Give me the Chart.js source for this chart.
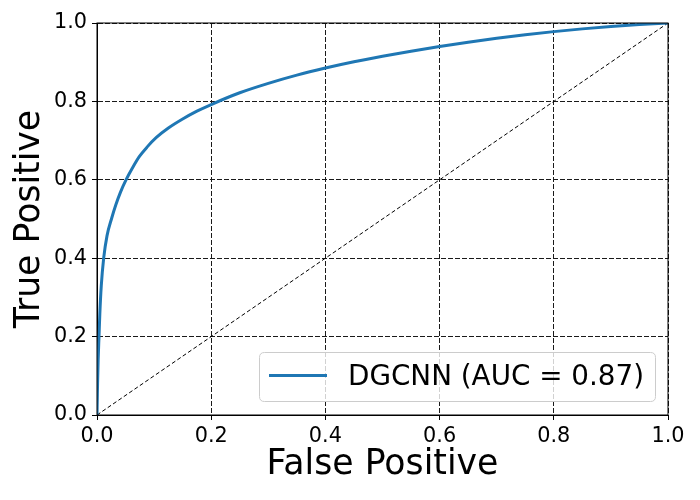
<!DOCTYPE html>
<html>
<head>
<meta charset="utf-8">
<script src="https://cdn.jsdelivr.net/npm/chart.js@4.4.0/dist/chart.umd.min.js"></script>
<style>
html,body{margin:0;padding:0;background:#fff;}
#wrap{width:700px;height:500px;}
</style>
</head>
<body>
<div id="wrap"><canvas id="c" width="700" height="500"></canvas></div>
<script>
const fpr = [0, 0.0005, 0.001, 0.002, 0.0035, 0.005, 0.0075, 0.0117, 0.0175, 0.0257, 0.0327, 0.041, 0.0506, 0.062, 0.074, 0.088, 0.104, 0.125, 0.15, 0.175, 0.2, 0.25, 0.3, 0.35, 0.4, 0.45, 0.5, 0.55, 0.6, 0.65, 0.7, 0.75, 0.8, 0.85, 0.9, 0.95, 1.0];
const tpr = [0, 0.04, 0.08, 0.14, 0.2, 0.26, 0.33, 0.4, 0.457, 0.502, 0.535, 0.568, 0.599, 0.63, 0.659, 0.684, 0.708, 0.732, 0.755, 0.775, 0.792, 0.822, 0.846, 0.867, 0.885, 0.901, 0.915, 0.928, 0.94, 0.951, 0.961, 0.97, 0.978, 0.985, 0.991, 0.996, 1.0];
const chanceX = [0, 1];
const chanceY = [0, 1];
const tickValues = [0, 0.2, 0.4, 0.6, 0.8, 1.0];
const seriesLabel = 'DGCNN (AUC = 0.87)';
const xTitle = 'False Positive';
const yTitle = 'True Positive';

const FONT = "'DejaVu Sans', sans-serif";

const framePlugin = {
  id: 'frame',
  afterDatasetsDraw(chart) {
    const {ctx, chartArea: a} = chart;
    ctx.save();
    ctx.strokeStyle = '#000';
    ctx.lineWidth = 1;
    ctx.setLineDash([]);
    ctx.strokeRect(a.left, a.top, a.right - a.left, a.bottom - a.top);
    ctx.restore();
  },
  afterDraw(chart) {
    const {ctx} = chart;
    const ds = chart.data.datasets[0];
    ctx.save();
    const bx = 259.5, by = 352.5, bw = 396, bh = 49, r = 5;
    ctx.beginPath();
    ctx.moveTo(bx + r, by);
    ctx.lineTo(bx + bw - r, by);
    ctx.quadraticCurveTo(bx + bw, by, bx + bw, by + r);
    ctx.lineTo(bx + bw, by + bh - r);
    ctx.quadraticCurveTo(bx + bw, by + bh, bx + bw - r, by + bh);
    ctx.lineTo(bx + r, by + bh);
    ctx.quadraticCurveTo(bx, by + bh, bx, by + bh - r);
    ctx.lineTo(bx, by + r);
    ctx.quadraticCurveTo(bx, by, bx + r, by);
    ctx.closePath();
    ctx.fillStyle = 'rgba(255,255,255,0.8)';
    ctx.fill();
    ctx.strokeStyle = '#cccccc';
    ctx.lineWidth = 1;
    ctx.stroke();
    ctx.beginPath();
    ctx.moveTo(269, 375.5);
    ctx.lineTo(327, 375.5);
    ctx.strokeStyle = ds.borderColor;
    ctx.lineWidth = 3;
    ctx.stroke();
    ctx.fillStyle = '#000';
    ctx.font = "27.8px " + FONT;
    ctx.textBaseline = 'alphabetic';
    ctx.textAlign = 'left';
    ctx.fillText(ds.label, 348, 385);
    ctx.restore();
  }
};

const gridCfg = {
  color: '#1a1a1a',
  lineWidth: 1,
  drawTicks: true,
  tickLength: 5,
  tickColor: '#000',
  tickWidth: 1,
  tickBorderDash: [],
};

new Chart(document.getElementById('c'), {
  type: 'scatter',
  data: {
    datasets: [
      {
        label: seriesLabel,
        data: fpr.map((x, i) => ({x: x, y: tpr[i]})),
        showLine: true,
        borderColor: '#1f77b4',
        backgroundColor: '#1f77b4',
        borderWidth: 3,
        pointRadius: 0,
        cubicInterpolationMode: 'monotone',
        order: 1
      },
      {
        label: 'chance',
        data: chanceX.map((x, i) => ({x: x, y: chanceY[i]})),
        showLine: true,
        borderColor: '#000',
        borderWidth: 1,
        borderDash: [4, 2.5],
        pointRadius: 0,
        order: 2
      }
    ]
  },
  options: {
    responsive: false,
    animation: false,
    devicePixelRatio: 1,
    layout: {padding: {top: 23, right: 32, left: 0, bottom: 0}},
    plugins: {legend: {display: false}, tooltip: {enabled: false}},
    scales: {
      x: {
        type: 'linear', min: 0, max: 1,
        afterBuildTicks(s) { s.ticks = tickValues.map(v => ({value: v})); },
        afterFit(s) { s.height = 85; },
        grid: gridCfg,
        border: {display: true, color: '#000', width: 1, dash: [5, 2]},
        ticks: {color: '#000', padding: 4, font: {family: FONT, size: 20.8}, maxRotation: 0,
          callback: v => v.toFixed(1)},
        title: {display: true, text: xTitle, color: '#000', font: {family: FONT, size: 34.7}, padding: {top: 0, bottom: 14}}
      },
      y: {
        type: 'linear', min: 0, max: 1,
        afterBuildTicks(s) { s.ticks = tickValues.map(v => ({value: v})); },
        afterFit(s) { s.width = 97; },
        grid: gridCfg,
        border: {display: true, color: '#000', width: 1, dash: [5, 2]},
        ticks: {color: '#000', padding: 5, font: {family: FONT, size: 20.8},
          callback: v => v.toFixed(1)},
        title: {display: true, text: yTitle, color: '#000', font: {family: FONT, size: 34.7}, padding: {top: 9, bottom: 0}}
      }
    }
  },
  plugins: [framePlugin]
});
</script>
</body>
</html>
